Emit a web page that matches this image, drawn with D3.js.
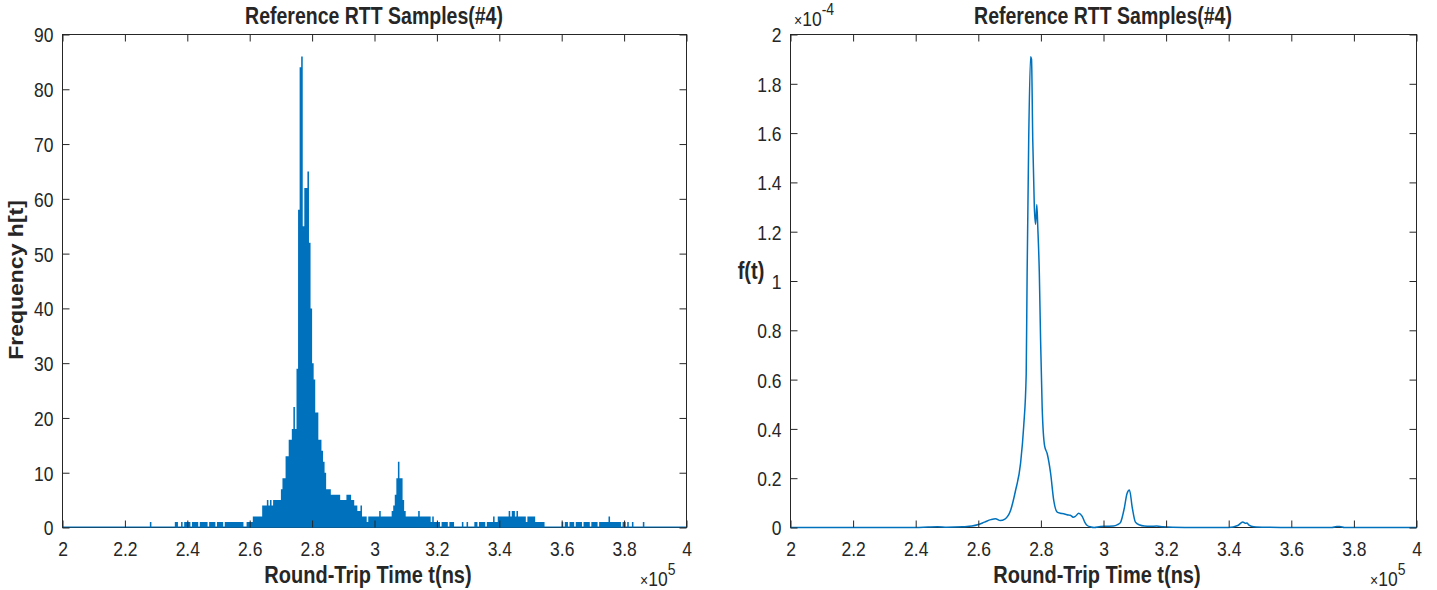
<!DOCTYPE html>
<html lang="en">
<head>
<meta charset="UTF-8">
<title>Reference RTT Samples(#4)</title>
<script src="https://d3js.org/d3.v7.min.js"></script>
<style>
  body { margin: 0; background: #fff; }
  text { font-family: "Liberation Sans", Arial, sans-serif; fill: #262626; }
</style>
</head>
<body>
<div id="chart"></div>
<script>
// ---- data ----
const chartTitle = "Reference RTT Samples(#4)";
const xLabel = "Round-Trip Time t(ns)";

const xTicks = [200000, 220000, 240000, 260000, 280000, 300000, 320000, 340000, 360000, 380000, 400000];
const freqTicks = [0, 10, 20, 30, 40, 50, 60, 70, 80, 90];
const pdfTicks = [0, 0.2, 0.4, 0.6, 0.8, 1, 1.2, 1.4, 1.6, 1.8, 2];   // x 1e-4

// histogram: 500 ns bins starting at 220000 ns, one row per 10 us
const binStart = 220000;
const binWidth = 500;
const counts = [
  0,0,0,0,0,0,0,0,0,0, 0,0,0,0,0,0,1,0,0,0,
  0,0,0,0,0,0,0,0,0,0, 0,0,1,1,0,0,1,0,1,1,
  1,1,0,1,1,1,1,0,1,1, 1,1,1,0,1,1,1,1,0,1,
  1,1,1,0,1,1,1,1,1,1, 1,1,1,1,1,1,0,0,1,1,
  1,1,2,2,2,2,2,2,4,4, 4,5,4,5,4,5,5,5,5,5,
  7,9,9,13,13,16,16,18,22,18, 29,58,84,86,55,62,62,65,52,40,
  30,27,21,21,16,16,14,12,10,7, 7,7,6,6,6,6,6,6,5,5,
  5,5,6,6,6,5,5,4,4,3, 3,4,2,2,2,1,2,2,2,2,
  2,2,2,3,2,2,2,2,2,2, 2,3,4,6,9,12,9,9,5,3,
  2,2,2,2,2,2,2,2,3,2, 2,2,2,2,2,2,1,2,1,1,
  1,1,0,1,1,1,1,0,1,1, 1,0,0,0,0,0,1,0,0,1,
  0,0,0,0,1,1,0,1,1,1, 1,0,1,1,1,1,2,1,1,2,
  2,2,2,2,2,2,3,2,3,3, 2,3,2,2,2,2,2,1,2,2,
  2,2,2,1,1,1,1,1,1,0, 0,0,0,0,0,0,0,0,0,0,
  1,0,1,1,0,1,1,1,0,1, 1,1,1,0,1,1,1,1,0,1,
  1,1,1,0,1,1,1,1,1,1, 2,1,1,1,1,1,1,1,0,1,
  1,0,1,0,0,1,0,0,0,0, 0,0,1,0,0,0,0,0,0,0
];

// density estimate f(t), in units of 1e-4
const pdfT = [200000, 240000, 244000, 247000, 250000, 255000, 258000, 260000, 262000, 264000,
  265500, 267000, 268500, 270300, 271900, 273500, 274500, 275300, 275600, 276100,
  276700, 277000, 277400, 277900, 278300, 278700, 279000, 279500, 279900, 280400,
  281200, 282000, 283100, 284100, 285200, 286200, 287300, 288300, 289400, 290300,
  291000, 292100, 293200, 294000, 294800, 296000, 297000, 299000, 301000, 303200,
  304500, 305400, 306700, 307500, 308300, 309200, 310200, 311600, 313000, 315000,
  317000, 319000, 322000, 330000, 340000, 342900, 344500, 345300, 345800, 346500,
  348000, 352000, 360000, 373000, 374500, 375500, 377000, 400000];
const pdfF = [0, 0, 0.002, 0.003, 0.001, 0.003, 0.006, 0.012, 0.022, 0.032,
  0.036, 0.028, 0.034, 0.069, 0.15, 0.26, 0.41, 0.62, 1.03, 1.57,
  1.91, 1.9, 1.57, 1.3, 1.23, 1.31, 1.22, 1.03, 0.76, 0.49,
  0.33, 0.3, 0.22, 0.11, 0.062, 0.058, 0.056, 0.052, 0.05, 0.042,
  0.045, 0.058, 0.045, 0.022, 0.008, 0.002, 0, 0.004, 0.005, 0.006,
  0.012, 0.02, 0.082, 0.137, 0.152, 0.08, 0.022, 0.01, 0.006, 0.005,
  0.006, 0.003, 0.001, 0, 0, 0.008, 0.022, 0.017, 0.018, 0.01,
  0.003, 0.001, 0, 0, 0.004, 0.004, 0, 0];

// ---- drawing ----
const W = 1437, H = 590;
const blue = "#0072BD", ink = "#262626";
const stretchY = 1.18;

const svg = d3.select("#chart").append("svg")
  .attr("width", W).attr("height", H)
  .style("background", "#fff");

const xL = d3.scaleLinear().domain([200000, 400000]).range([62.5, 686.5]);
const yL = d3.scaleLinear().domain([0, 90]).range([527.5, 34.5]);
const xR = d3.scaleLinear().domain([200000, 400000]).range([790.5, 1416.5]);
const yR = d3.scaleLinear().domain([0, 2]).range([527.5, 34.5]);

const fmtX = d => String(+(d / 1e5).toFixed(1));
const fmtY = d => String(+d.toFixed(1));

function label(g, txt, x, y, size, opts = {}) {
  const t = g.append("text")
    .attr("transform", `translate(${x},${y})` + (opts.rotate ? " rotate(-90)" : "") +
      (opts.rotate ? ` scale(${stretchY},1)` : ` scale(1,${stretchY})`))
    .attr("text-anchor", opts.anchor || "middle")
    .style("font-size", size + "px")
    .style("font-weight", opts.bold ? "bold" : "normal")
    .text(txt);
  return t;
}

function frame(g, x, y, yTicks) {
  const [x0, x1] = x.range();
  const [yb, yt] = y.range();
  g.append("rect")
    .attr("x", x0).attr("y", yt).attr("width", x1 - x0).attr("height", yb - yt)
    .attr("fill", "none").attr("stroke", ink).attr("stroke-width", 1);
}

function ticks(g, x, y, yTicks) {
  const [x0, x1] = x.range();
  const [yb, yt] = y.range();
  const bottom = g.append("g").attr("transform", `translate(0,${yb})`)
    .call(d3.axisBottom(x).tickValues(xTicks).tickSize(-7).tickFormat(fmtX));
  bottom.selectAll("text")
    .attr("y", 0).attr("dy", null)
    .attr("transform", `translate(0,28) scale(1,${stretchY})`);
  g.append("g").attr("transform", `translate(0,${yt})`)
    .call(d3.axisTop(x).tickValues(xTicks).tickSize(-7).tickFormat(""));
  const left = g.append("g").attr("transform", `translate(${x0},0)`)
    .call(d3.axisLeft(y).tickValues(yTicks).tickSize(-7).tickFormat(fmtY));
  left.selectAll("text")
    .attr("x", -9).attr("dy", "0.36em")
    .attr("transform", `scale(1,${stretchY})`);
  g.append("g").attr("transform", `translate(${x1},0)`)
    .call(d3.axisRight(y).tickValues(yTicks).tickSize(-7).tickFormat(""));

  g.selectAll(".domain").remove();
  g.selectAll(".tick line").attr("stroke", ink).attr("stroke-width", 1);
  g.selectAll(".tick text").style("font-size", "17.5px").style("font-family", null).attr("fill", ink);
}

function times10(g, x, y, exp) {
  const t = g.append("text")
    .attr("transform", `translate(${x},${y}) scale(1,${stretchY})`)
    .style("font-size", "17.5px");
  t.append("tspan").style("font-size", "14px").text("\u00d7");
  t.append("tspan").text("10");
  t.append("tspan").attr("dy", -9).style("font-size", "14px").text(exp);
}

// ---- left: histogram ----
const gl = svg.append("g");
frame(gl, xL, yL);

const bins = counts.map((c, i) => ({ t: binStart + i * binWidth, c }));
bins.push({ t: binStart + counts.length * binWidth, c: 0 });

gl.append("path")
  .datum(bins)
  .attr("fill", blue)
  .attr("d", d3.area()
    .x(d => xL(d.t))
    .y0(yL(0))
    .y1(d => yL(d.c))
    .curve(d3.curveStepAfter));

// zero-height bar edges along the baseline
gl.append("line")
  .attr("x1", xL(200000)).attr("x2", xL(400000))
  .attr("y1", yL(0) - 0.5).attr("y2", yL(0) - 0.5)
  .attr("stroke", blue).attr("stroke-width", 1.2);

ticks(gl, xL, yL, freqTicks);
label(gl, chartTitle, 374, 24, 19.5, { bold: true });
label(gl, xLabel, 368, 583, 20, { bold: true });
label(gl, "Frequency h[t]", 23, 280, 19.5, { bold: true, rotate: true });
times10(gl, 640, 586, "5");

// ---- right: density ----
const gr = svg.append("g");
frame(gr, xR, yR);

const pdf = pdfT.map((t, i) => ({ t, f: pdfF[i] }));
gr.append("path")
  .datum(pdf)
  .attr("fill", "none")
  .attr("stroke", blue)
  .attr("stroke-width", 1.5)
  .attr("d", d3.line()
    .x(d => xR(d.t))
    .y(d => yR(d.f))
    .curve(d3.curveMonotoneX));

ticks(gr, xR, yR, pdfTicks);
label(gr, chartTitle, 1103, 24, 19.5, { bold: true });
label(gr, xLabel, 1097, 583, 20, { bold: true });
label(gr, "f(t)", 751, 279, 20, { bold: true });
times10(gr, 1370, 586, "5");
times10(gr, 794, 26, "-4");
</script>
</body>
</html>
